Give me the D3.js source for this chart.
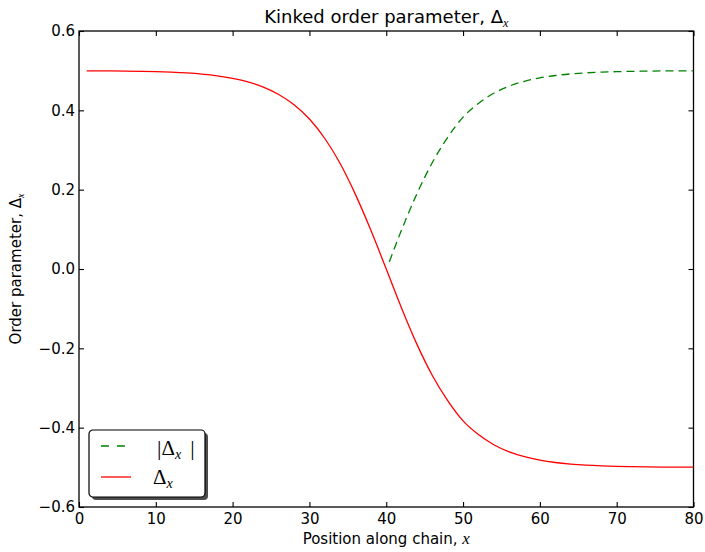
<!DOCTYPE html>
<html>
<head>
<meta charset="utf-8">
<script src="https://cdn.jsdelivr.net/npm/d3@7"></script>
<style>
  body { margin: 0; background: #fff; }
  text { font-family: "DejaVu Sans", sans-serif; fill: #000; }
  .math { font-family: "Liberation Serif", "DejaVu Serif", serif; }
</style>
</head>
<body>
<div id="chart"></div>
<script>

// positions along the chain and the order parameter at each one

var posX = [1, 2, 4, 6, 8, 10, 12, 14, 16, 18, 20, 22, 24, 26, 28, 30, 32, 34, 36, 38, 40,
	42, 44, 46, 48, 50, 52, 54, 56, 58, 60, 62, 64, 66, 68, 70, 72, 74, 76, 78, 80];

var delta = [0.4996, 0.4995, 0.4993, 0.4989, 0.4983, 0.4975, 0.4962, 0.4943, 0.4914, 0.4870, 0.4805,
	0.4715, 0.4585, 0.4400, 0.4140, 0.3780, 0.3290, 0.2660, 0.1875, 0.0975, 0.0,
	-0.0987, -0.1900, -0.2685, -0.3320, -0.3830, -0.4175, -0.4430, -0.4610, -0.4732, -0.4818,
	-0.4878, -0.4918, -0.4945, -0.4963, -0.4975, -0.4983, -0.4989, -0.4993, -0.4995, -0.4996];

// magnitude past the kink

var absX = [40.4, 42, 44, 46, 48, 50, 52, 54, 56, 58, 60, 62, 64, 66, 68, 70, 72, 74, 76, 78, 80];

var absDelta = [0.018, 0.0987, 0.1900, 0.2685, 0.3320, 0.3830, 0.4175, 0.4430, 0.4610, 0.4732, 0.4818,
	0.4878, 0.4918, 0.4945, 0.4963, 0.4975, 0.4983, 0.4989, 0.4993, 0.4995, 0.4996];

var xTicks = [0, 10, 20, 30, 40, 50, 60, 70, 80];
var yTicks = [-0.6, -0.4, -0.2, 0.0, 0.2, 0.4, 0.6];

// chart size and margins

var svgWidth = 705;
var svgHeight = 552;

var margin = { top: 31, right: 11.5, bottom: 45, left: 79 };

var width = svgWidth - margin.left - margin.right;
var height = svgHeight - margin.top - margin.bottom;

var svg = d3.select("#chart")
	.append("svg")
	.attr("width", svgWidth)
	.attr("height", svgHeight);

var chartGroup = svg.append("g")
	.attr("transform", `translate(${margin.left}, ${margin.top})`);

// scales

var xScale = d3.scaleLinear().domain([0, 80]).range([0, width]);
var yScale = d3.scaleLinear().domain([-0.6, 0.6]).range([height, 0]);

var fmt = d3.format(".1f");

// axes, ticks pointing inward on every side

var bottomAxis = chartGroup.append("g")
	.attr("transform", `translate(0, ${height})`)
	.call(d3.axisBottom(xScale).tickValues(xTicks).tickSizeInner(-5).tickSizeOuter(0).tickPadding(6.5));

var leftAxis = chartGroup.append("g")
	.call(d3.axisLeft(yScale).tickValues(yTicks).tickFormat(fmt).tickSizeInner(-5).tickSizeOuter(0).tickPadding(4));

var topAxis = chartGroup.append("g")
	.call(d3.axisTop(xScale).tickValues(xTicks).tickFormat("").tickSizeInner(-5).tickSizeOuter(0));

var rightAxis = chartGroup.append("g")
	.attr("transform", `translate(${width}, 0)`)
	.call(d3.axisRight(yScale).tickValues(yTicks).tickFormat("").tickSizeInner(-5).tickSizeOuter(0));

chartGroup.selectAll(".domain").remove();
chartGroup.selectAll(".tick line").attr("stroke", "#000").attr("stroke-width", 1.1);
chartGroup.selectAll(".tick text")
	.style("font-family", "DejaVu Sans")
	.style("font-size", "15px")
	.attr("fill", "#000");

// frame

chartGroup.append("rect")
	.attr("width", width)
	.attr("height", height)
	.attr("fill", "none")
	.attr("stroke", "#000")
	.attr("stroke-width", 1.3);

// lines

var line = d3.line()
	.x(d => xScale(d[0]))
	.y(d => yScale(d[1]))
	.curve(d3.curveMonotoneX);

chartGroup.append("path")
	.datum(absX.map((x, i) => [x, absDelta[i]]))
	.attr("d", line)
	.attr("fill", "none")
	.attr("stroke", "#008000")
	.attr("stroke-width", 1.3)
	.attr("stroke-dasharray", "8,5");

chartGroup.append("path")
	.datum(posX.map((x, i) => [x, delta[i]]))
	.attr("d", line)
	.attr("fill", "none")
	.attr("stroke", "#ff0000")
	.attr("stroke-width", 1.3);

// helper for a label that ends in Delta with subscript x

function deltaLabel(sel, prefix, subSize) {
	sel.append("tspan").text(prefix + "\u0394");
	sel.append("tspan")
		.attr("class", "math")
		.attr("font-style", "italic")
		.attr("font-size", subSize)
		.attr("dy", "0.3em")
		.text("x");
}

// title and axis labels

var title = svg.append("text")
	.attr("x", margin.left + width / 2)
	.attr("y", 23)
	.attr("text-anchor", "middle")
	.style("font-size", "18px");
deltaLabel(title, "Kinked order parameter, ", "12px");

var xLabel = svg.append("text")
	.attr("x", margin.left + width / 2)
	.attr("y", 544)
	.attr("text-anchor", "middle")
	.style("font-size", "15px");
xLabel.append("tspan").text("Position along chain, ");
xLabel.append("tspan").attr("class", "math").attr("font-style", "italic").attr("font-size", "17px").text("x");

var yLabel = svg.append("text")
	.attr("transform", `translate(21, ${margin.top + height / 2}) rotate(-90)`)
	.attr("text-anchor", "middle")
	.style("font-size", "15px");
deltaLabel(yLabel, "Order parameter, ", "10px");

// legend with shadow

var legend = svg.append("g").attr("transform", "translate(89, 430)");

legend.append("rect")
	.attr("x", 3)
	.attr("y", 3)
	.attr("width", 116)
	.attr("height", 67)
	.attr("rx", 4)
	.attr("fill", "#4d4d4d");

legend.append("rect")
	.attr("width", 116)
	.attr("height", 67)
	.attr("rx", 4)
	.attr("fill", "#fff")
	.attr("stroke", "#000")
	.attr("stroke-width", 1.2);

legend.append("line")
	.attr("x1", 12).attr("x2", 42)
	.attr("y1", 16).attr("y2", 16)
	.attr("stroke", "#008000")
	.attr("stroke-width", 1.3)
	.attr("stroke-dasharray", "8,8");

legend.append("line")
	.attr("x1", 12).attr("x2", 42)
	.attr("y1", 47).attr("y2", 47)
	.attr("stroke", "#ff0000")
	.attr("stroke-width", 1.3);

var absLabel = legend.append("text")
	.attr("class", "math")
	.attr("x", 68)
	.attr("y", 25)
	.style("font-size", "21px");
absLabel.append("tspan").attr("font-size", "22px").text("|");
absLabel.append("tspan").text("\u0394");
absLabel.append("tspan").attr("font-style", "italic").attr("font-size", "14px").attr("dy", "4").text("x");
absLabel.append("tspan").attr("font-size", "22px").attr("dx", "9").attr("dy", "-4").text("|");

var deltaLegend = legend.append("text")
	.attr("class", "math")
	.attr("x", 64)
	.attr("y", 54)
	.style("font-size", "21px");
deltaLegend.append("tspan").text("\u0394");
deltaLegend.append("tspan").attr("font-style", "italic").attr("font-size", "14px").attr("dy", "4").text("x");

</script>
</body>
</html>
